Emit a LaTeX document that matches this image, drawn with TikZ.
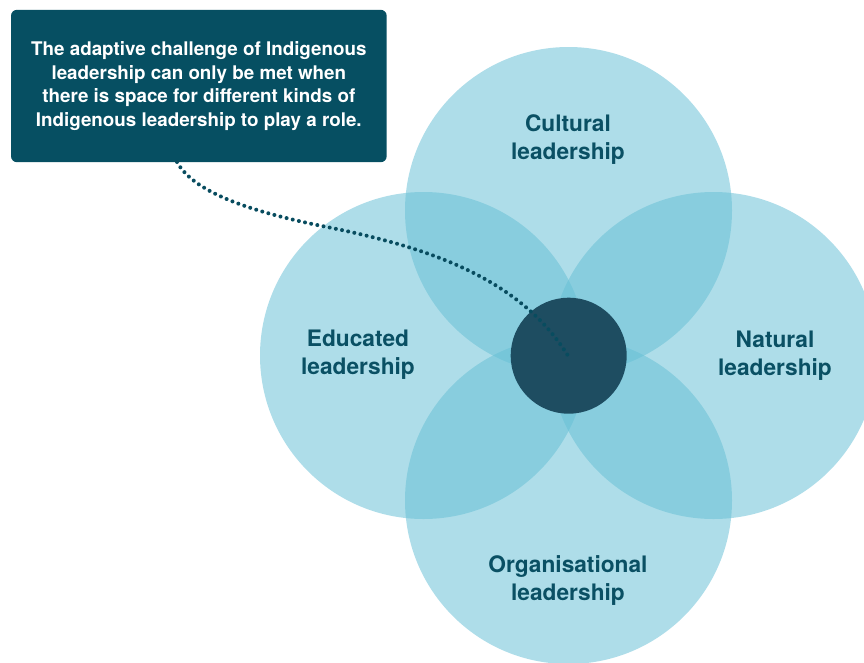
\documentclass[tikz,border=0pt]{standalone}
\usepackage{fontspec}
\setmainfont{TeX Gyre Heros}
\definecolor{boxcol}{RGB}{6,79,98}
\definecolor{labcol}{RGB}{10,80,100}
\definecolor{hubcol}{RGB}{30,77,97}
\definecolor{dotcol}{RGB}{8,76,95}
\definecolor{petal}{RGB}{102,191,213}
\begin{document}
\begin{tikzpicture}[x=1pt,y=-1pt,
  petalc/.style={circle,fill=petal,fill opacity=0.53,draw=none,minimum size=327pt,inner sep=0pt},
  hub/.style={circle,fill=hubcol,draw=none,minimum size=116pt,inner sep=0pt},
  lab/.style={align=center,text=labcol,font=\fontsize{22.7}{28}\selectfont\bfseries},
  callout/.style={rounded corners=6pt,fill=boxcol,draw=none,minimum width=375.7pt,minimum height=152.4pt,inner sep=0pt,align=center,text=white,font=\fontsize{18.8}{23.5}\selectfont\bfseries},
  dotline/.style={draw=dotcol,line width=4pt,line cap=round,dash pattern=on 0pt off 6.3pt}]
\useasboundingbox (0,0) rectangle (864,662);
\clip (0,0) rectangle (864,662);
\node[petalc] (top) at (568.5,210.5) {};
\node[petalc] (left) at (423.5,355.5) {};
\node[petalc] (right) at (713.5,355.5) {};
\node[petalc] (bottom) at (568.5,500.5) {};
\node[hub] (hub) at (568.7,355.7) {};
\node[lab] (cult) at (568,139.5) {Cultural\\leadership};
\node[lab] (edu) at (358,355) {Educated\\leadership};
\node[lab] (nat) at (775,355.5) {Natural\\leadership};
\node[lab] (org) at (568,581) {Organisational\\leadership};
\node[callout] (box) at (198.85,86) {The adaptive challenge of Indigenous\\leadership can only be met when\\there is space for different kinds of\\Indigenous leadership to play a role.};
\coordinate (start) at (177,162);
\coordinate (mid) at (317,225);
\coordinate (tip) at (570,359);
\draw[dotline] (start) .. controls (195,195) and (260,213) .. (mid) .. controls (420,245) and (520,275) .. (tip);
\end{tikzpicture}
\end{document}
